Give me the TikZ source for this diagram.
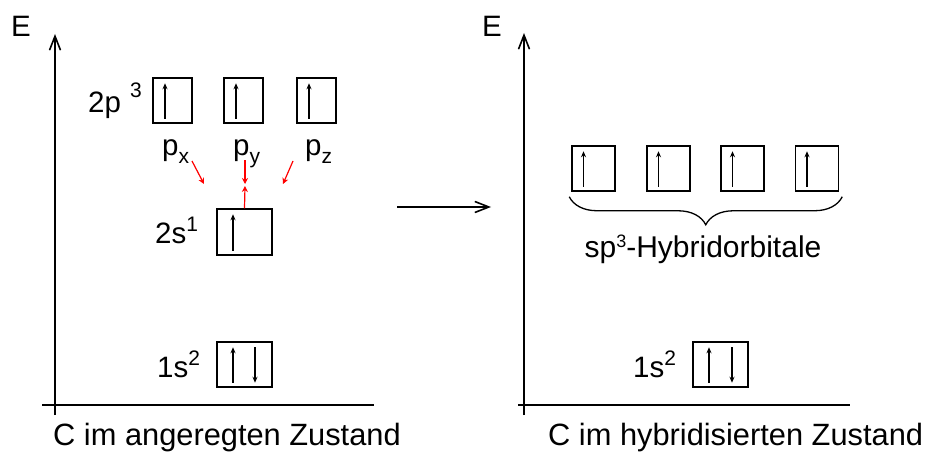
\documentclass[tikz,border=0pt]{standalone}
\usepackage{fontspec}
\setmainfont{Liberation Sans}
\usetikzlibrary{arrows.meta,decorations.pathreplacing}
\newcommand\supr[2][13pt]{\raisebox{#1}{\fontsize{21}{21}\selectfont #2}}
\newcommand\subr[1]{\raisebox{-8pt}{\fontsize{21}{21}\selectfont #1}}
\begin{document}
\begin{tikzpicture}[x=1pt,y=-1pt,
  lbl/.style={font=\fontsize{29.5}{32}\selectfont, inner sep=0pt, anchor=base west},
  big/.style={font=\fontsize{30.8}{34}\selectfont, inner sep=0pt, anchor=base west},
  orb/.style={draw, line width=1.5pt, minimum height=45pt, inner sep=0pt},
  spin/.style={line width=1.4pt, -{Stealth[length=6pt,width=5pt]}},
  axisarr/.style={line width=1.6pt, -{Straight Barb[length=14pt,width=11pt]}},
  redarr/.style={red, line width=1.2pt, -{Stealth[length=6pt,width=6pt]}}
]
\useasboundingbox (0,0) rectangle (927,452);
\fill[white] (0,0) rectangle (927,452);

% ---------- left diagram ----------
\coordinate (lo) at (55,415);
\coordinate (lt) at (55,34);
\coordinate (lxa) at (42,405);
\coordinate (lxb) at (374,405);
\draw[axisarr] (lo) -- (lt);
\draw[line width=1.6pt] (lxa) -- (lxb);
\node[lbl] (E1) at (11,37) {E};

\node[orb, minimum width=39pt] (p1) at (172.5,100.5) {};
\node[orb, minimum width=39pt] (p2) at (243.5,100.5) {};
\node[orb, minimum width=39pt] (p3) at (316.5,100.5) {};
\node[orb, minimum width=55pt, minimum height=46pt] (s2) at (244.5,232) {};
\node[orb, minimum width=55pt] (s1) at (244.5,364.5) {};

\foreach \b in {p1,p2,p3}
  \draw[spin] ([xshift=-7.5pt,yshift=5pt]\b.south) -- ([xshift=-7.5pt,yshift=-6pt]\b.north);
\draw[spin] ([xshift=-11.5pt,yshift=5pt]s2.south) -- ([xshift=-11.5pt,yshift=-6pt]s2.north);
\draw[spin] ([xshift=-11.5pt,yshift=5pt]s1.south) -- ([xshift=-11.5pt,yshift=-6pt]s1.north);
\draw[spin] ([xshift=10.5pt,yshift=-6pt]s1.north) -- ([xshift=10.5pt,yshift=5pt]s1.south);

\node[lbl] (l2p) at (88,112) {2p\hspace{9pt}\supr[14pt]{3}};
\node[lbl] (l2s) at (155,243) {2s\supr[12pt]{1}};
\node[lbl] (l1s) at (157,377) {1s\supr[12pt]{2}};

\node[lbl] (px) at (162,155) {p\subr{x}};
\node[lbl] (py) at (233,155) {p\subr{y}};
\node[lbl] (pz) at (305,155) {p\subr{z}};

\coordinate (ra1) at (192,161);
\coordinate (ra2) at (204,184);
\coordinate (rb1) at (245,160);
\coordinate (rb2) at (245,184);
\coordinate (rc2) at (245,186);
\coordinate (rd1) at (293,161);
\coordinate (rd2) at (283,184);
\draw[redarr] (ra1) -- (ra2);
\draw[redarr] (rb1) -- (rb2);
\draw[redarr] (s2.north) -- (rc2);
\draw[redarr] (rd1) -- (rd2);

\node[big] (capL) at (53,445) {C im angeregten Zustand};

% ---------- middle arrow ----------
\coordinate (ma) at (397,207);
\coordinate (mb) at (491,207);
\draw[axisarr] (ma) -- (mb);

% ---------- right diagram ----------
\coordinate (ro) at (524,415);
\coordinate (rt) at (524,33);
\coordinate (rxa) at (518,405);
\coordinate (rxb) at (850,405);
\draw[axisarr] (ro) -- (rt);
\draw[line width=1.6pt] (rxa) -- (rxb);
\node[lbl] (E2) at (482,37) {E};

\node[orb, minimum width=43pt] (h1) at (593.5,168.5) {};
\node[orb, minimum width=43pt] (h2) at (668.5,168.5) {};
\node[orb, minimum width=43pt] (h3) at (742.5,168.5) {};
\node[orb, minimum width=43pt] (h4) at (817,168.5) {};
\foreach \b in {h1,h2,h3,h4}
  \draw[spin] ([xshift=-10pt,yshift=5pt]\b.south) -- ([xshift=-10pt,yshift=-6pt]\b.north);

\draw[line width=1.3pt, decorate, decoration={brace, mirror, amplitude=28pt}]
  ([xshift=-2pt,yshift=-5pt]h1.south west) -- ([xshift=3pt,yshift=-5pt]h4.south east);
\node[font=\fontsize{30}{34}\selectfont, inner sep=0pt, anchor=base] (hyb) at (703,257)
  {sp\supr[10pt]{\fontsize{18}{18}\selectfont 3}-Hybridorbitale};

\node[orb, minimum width=55pt] (r1) at (720.5,364.5) {};
\draw[spin] ([xshift=-11.5pt,yshift=5pt]r1.south) -- ([xshift=-11.5pt,yshift=-6pt]r1.north);
\draw[spin] ([xshift=11.5pt,yshift=-6pt]r1.north) -- ([xshift=11.5pt,yshift=5pt]r1.south);
\node[lbl] (r1s) at (633,377) {1s\supr[12pt]{2}};

\node[big] (capR) at (548,445) {C im hybridisierten Zustand};
\end{tikzpicture}
\end{document}
